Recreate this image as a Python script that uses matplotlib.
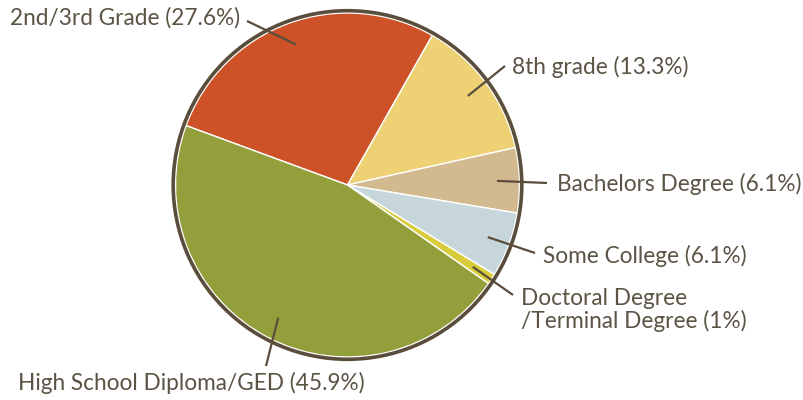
import numpy as np
import matplotlib.pyplot as plt
from matplotlib.patches import Circle

labels = ["2nd/3rd Grade (27.6%)", "8th grade (13.3%)", "Bachelors Degree (6.1%)",
          "Some College (6.1%)", "Doctoral Degree\n/Terminal Degree (1%)",
          "High School Diploma/GED (45.9%)"]
values = [27.6, 13.3, 6.1, 6.1, 1.0, 45.9]
colors = ["#CD5228", "#EDD174", "#D3B98F", "#C6D6DA", "#D8CC3A", "#939F3A"]

# layout in pixel coords (y from top): line end, text anchor, alignment
line_ends = [(247, 21), (505, 66), (547, 183), (535, 253), (513, 295), (266, 366)]
text_pos = [(240, 18), (512, 67), (557, 184), (543, 256), (521, 310), (18, 383)]
text_ha = ["right", "left", "left", "left", "left", "left"]

W, H = 804, 400
cx, cy, R = 347.5, 400 - 185, 172
start = 159.8
text_color = "#5B5344"
edge_color = "#5B4D3C"

fig = plt.figure(figsize=(8.04, 4.0), dpi=100)
ax = fig.add_axes([0, 0, 1, 1])
ax.axis("off")

wedges, _ = ax.pie(values, colors=colors, startangle=start, counterclock=False,
                   center=(cx, cy), radius=R,
                   wedgeprops=dict(edgecolor="white", linewidth=1.0))
ax.add_patch(Circle((cx, cy), R + 2.3, fill=False, edgecolor=edge_color, linewidth=2.6))
ax.set_xlim(0, W)
ax.set_ylim(0, H)
ax.set_aspect("equal")

for w, lab, end, tp, ha in zip(wedges, labels, line_ends, text_pos, text_ha):
    mid = np.deg2rad((w.theta1 + w.theta2) / 2)
    x0 = cx + 0.87 * R * np.cos(mid)
    y0 = cy + 0.87 * R * np.sin(mid)
    ax.plot([x0, end[0]], [y0, H - end[1]], color=edge_color, lw=1.6,
            solid_capstyle="butt")
    ax.text(tp[0], H - tp[1], lab, ha=ha, va="center", fontsize=16.3,
            family="Lato", color=text_color, linespacing=1.1)

fig.savefig("out.png", dpi=100)
